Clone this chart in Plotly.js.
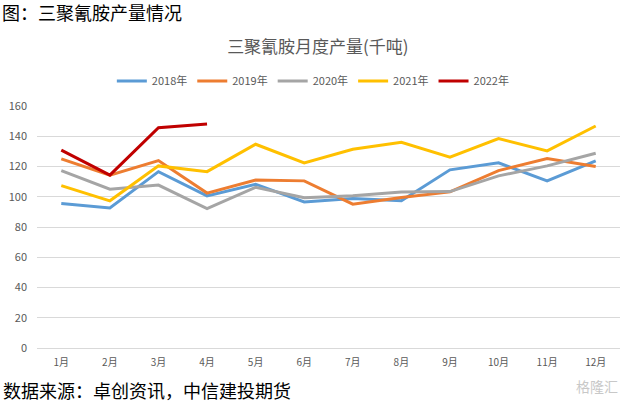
<!DOCTYPE html>
<html><head><meta charset="utf-8">
<script src="https://cdn.plot.ly/plotly-3.0.1.min.js"></script>
<style>html,body{margin:0;padding:0;background:#fff}#chart{width:627px;height:404px}</style>
</head><body><div id="chart"></div>
<script>
const months = ['1月','2月','3月','4月','5月','6月','7月','8月','9月','10月','11月','12月'];
const y2018 = [95.5, 92.6, 116.6, 100.6, 108.3, 96.6, 98.8, 97.3, 117.8, 122.4, 110.5, 123.7];
const y2019 = [125, 114.3, 123.9, 102.4, 111, 110.5, 95.1, 99.5, 103.2, 117.3, 125.2, 120];
const y2020 = [117.3, 105, 107.7, 92.2, 106.3, 99.3, 100.6, 103.2, 103.4, 113.8, 120.4, 128.8];
const y2021 = [107.4, 97.3, 120.4, 116.6, 134.7, 122.4, 131.4, 136, 126.2, 138.4, 130.3, 146.8];
const y2022 = [130.8, 114.3, 145.7, 148.1];
const seriesNames = ['2018年','2019年','2020年','2021年','2022年'];
const seriesData = [y2018, y2019, y2020, y2021, y2022];
const colors = ['#5B9BD5','#ED7D31','#A5A5A5','#FFC000','#C00000'];
const fontCJK = '"Noto Sans CJK SC", "Noto Sans", sans-serif';

const traces = seriesData.map((d, i) => ({
  x: months.slice(0, d.length), y: d, name: seriesNames[i], type: 'scatter', mode: 'lines',
  line: {color: colors[i], width: 3}
}));

const layout = {
  width: 627, height: 404,
  margin: {l: 37, r: 7, t: 106, b: 56},
  paper_bgcolor: '#fff', plot_bgcolor: '#fff',
  font: {family: fontCJK, color: '#595959', size: 11},
  title: {text: '三聚氰胺月度产量(千吨)', x: 0.507, xanchor: 'center', y: 1 - 47/404, yanchor: 'middle',
          font: {size: 17, color: '#595959', family: fontCJK}},
  showlegend: true,
  legend: {orientation: 'h', x: 0.474, xanchor: 'center', y: 1.103, yanchor: 'middle',
           font: {size: 11, color: '#595959'}, tracegroupgap: 0},
  xaxis: {type: 'category', categoryorder: 'array', categoryarray: months, range: [-0.5, 11.5],
          showgrid: false, showline: true, linecolor: '#D9D9D9', linewidth: 1, ticks: '',
          tickfont: {size: 10, color: '#595959'}, ticklabelstandoff: 5, fixedrange: true},
  yaxis: {range: [0, 160], dtick: 20, showgrid: true, gridcolor: '#D9D9D9', gridwidth: 1,
          zeroline: false, showline: false, ticks: '', tickfont: {size: 11, color: '#595959'},
          ticklabelstandoff: 9},
  annotations: [
    {text: '图：三聚氰胺产量情况', xref: 'paper', yref: 'paper', x: -37/583, y: 1 + (106-12)/242,
     xanchor: 'left', yanchor: 'middle', showarrow: false, font: {size: 18, color: '#000', family: fontCJK}},
    {text: '数据来源：卓创资讯，中信建投期货', xref: 'paper', yref: 'paper', x: -36/583, y: -(390-348)/242,
     xanchor: 'left', yanchor: 'middle', showarrow: false, font: {size: 18, color: '#000', family: fontCJK}},
    {text: '格隆汇', xref: 'paper', yref: 'paper', x: 1, y: -(386-348)/242,
     xanchor: 'right', yanchor: 'middle', showarrow: false, font: {size: 14, color: '#C8C8C8', family: fontCJK}}
  ]
};
Plotly.newPlot('chart', traces, layout, {displayModeBar: false, staticPlot: true});
</script></body></html>
